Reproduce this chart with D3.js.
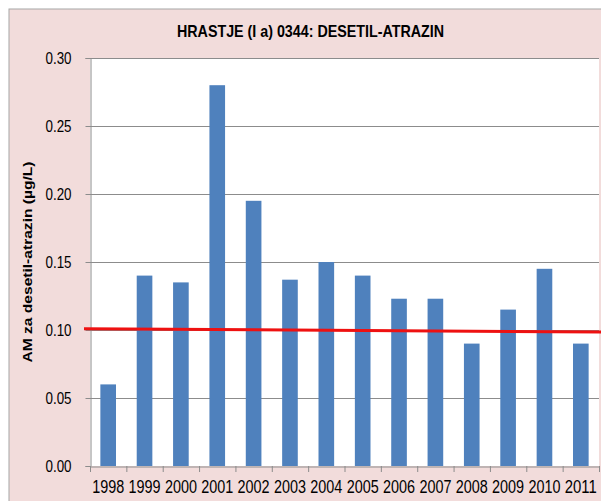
<!DOCTYPE html>
<html><head><meta charset="utf-8">
<script src="https://cdn.jsdelivr.net/npm/d3@7"></script>
<style>body{margin:0;background:#fff;}svg{display:block;font-family:"Liberation Sans",Arial,sans-serif;}</style>
</head><body>
<svg id="c" width="601" height="501"></svg>
<script>
const years = ["1998","1999","2000","2001","2002","2003","2004","2005","2006","2007","2008","2009","2010","2011"];
const values = [0.06,0.14,0.135,0.28,0.195,0.137,0.15,0.14,0.123,0.123,0.09,0.115,0.145,0.09];
const yTicks = [0,0.05,0.10,0.15,0.20,0.25,0.30];
const trendStart = 0.101, trendEnd = 0.0985;
const title = "HRASTJE (I a) 0344: DESETIL-ATRAZIN";
const yTitle = "AM za desetil-atrazin (µg/L)";

const svg = d3.select("#c");
svg.append("rect").attr("x",9).attr("y",9).attr("width",600).attr("height",500)
  .attr("fill","#f2dcdb").attr("stroke","#a6a6a6").attr("stroke-width",1);
const L=90,R=599,T=58,B=466;
svg.append("rect").attr("x",L).attr("y",T).attr("width",R-L).attr("height",B-T).attr("fill","#fff");
const x = d3.scaleBand().domain(years).range([L,R]).paddingInner(0.57).paddingOuter(0.285);
const y = d3.scaleLinear().domain([0,0.30]).range([B,T]);

// gridlines
svg.append("g").selectAll("line").data(yTicks.filter(d=>d>0)).join("line")
  .attr("x1",L).attr("x2",R).attr("y1",d=>y(d)+0.5).attr("y2",d=>y(d)+0.5)
  .attr("stroke","#8c8c8c").attr("stroke-width",1);

// bars
svg.append("g").selectAll("rect").data(values).join("rect")
  .attr("x",(d,i)=>x(years[i])).attr("width",x.bandwidth())
  .attr("y",d=>y(d)).attr("height",d=>B-y(d)).attr("fill","#4f81bd");

// y axis
const ya = svg.append("g").attr("transform",`translate(${L+0.5},0)`)
  .call(d3.axisLeft(y).tickValues(yTicks).tickFormat(d3.format(".2f")).tickSize(5).tickPadding(14));
ya.select(".domain").attr("stroke","#8c8c8c");
ya.selectAll(".tick line").attr("stroke","#8c8c8c");
ya.selectAll("text").attr("font-size",17).attr("fill","#000").attr("font-family","Liberation Sans, Arial, sans-serif")
  .attr("textLength",26).attr("lengthAdjust","spacingAndGlyphs");

// x axis with boundary ticks
const xa = svg.append("g").attr("transform",`translate(0,${B+0.5})`)
  .call(d3.axisBottom(x).tickSize(0).tickPadding(14));
xa.select(".domain").attr("stroke","#8c8c8c");
xa.selectAll("text").attr("font-size",17.5).attr("fill","#000").attr("font-family","Liberation Sans, Arial, sans-serif")
  .attr("textLength",32).attr("lengthAdjust","spacingAndGlyphs");
svg.append("g").selectAll("line").data(d3.range(years.length+1)).join("line")
  .attr("x1",i=>L+i*(R-L)/years.length+0.5).attr("x2",i=>L+i*(R-L)/years.length+0.5)
  .attr("y1",B).attr("y2",B+6).attr("stroke","#8c8c8c");

// trend line
svg.append("line").attr("x1",84).attr("x2",601)
  .attr("y1",y(trendStart)).attr("y2",y(trendEnd - (trendStart-trendEnd)*(601-R)/(R-84)))
  .attr("stroke","#ee1111").attr("stroke-width",3);

// titles
svg.append("text").attr("x",310.5).attr("y",37).attr("text-anchor","middle")
  .attr("font-size",16.5).attr("font-weight","bold").attr("textLength",267).attr("lengthAdjust","spacingAndGlyphs").text(title);
svg.append("text").attr("transform",`translate(32,${(T+B)/2}) rotate(-90)`).attr("text-anchor","middle")
  .attr("font-size",12.5).attr("font-weight","bold").attr("textLength",201).attr("lengthAdjust","spacingAndGlyphs").text(yTitle);
</script>
</body></html>
